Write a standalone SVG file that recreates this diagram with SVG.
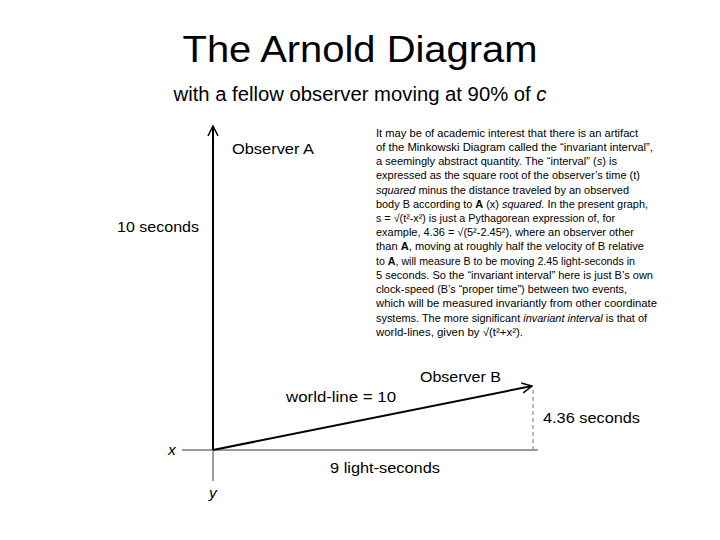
<svg xmlns="http://www.w3.org/2000/svg" width="720" height="540" viewBox="0 0 720 540">
<defs>
<style>
text{font-family:"Liberation Sans","DejaVu Sans",sans-serif;fill:#000}
.title{font-size:37px}
.sub{font-size:20px}
.lbl{font-size:15.5px}
.para{font-size:11px}
.it{font-style:italic}
.b{font-weight:bold}
.axis{stroke:#9a9a9a;stroke-width:2;fill:none}
.blk{stroke:#000;stroke-width:2;fill:none}
.dash{stroke:#777;stroke-width:1;stroke-dasharray:4 3;fill:none}
</style>
<marker id="open" viewBox="0 0 12 12" refX="11" refY="6" markerWidth="12" markerHeight="12" markerUnits="userSpaceOnUse" orient="auto">
<path d="M1,1 L11,6 L1,11" fill="none" stroke="#000" stroke-width="1.5"/>
</marker>
</defs>
<rect width="720" height="540" fill="#fff"/>
<g id="title">
<text class="title" x="360" y="62" text-anchor="middle" textLength="355" lengthAdjust="spacingAndGlyphs">The Arnold Diagram</text>
<text class="sub" x="360" y="101" text-anchor="middle" textLength="373" lengthAdjust="spacingAndGlyphs">with a fellow observer moving at 90% of <tspan class="it">c</tspan></text>
</g>
<g id="connectors">
<line class="axis" x1="182" y1="450" x2="538" y2="450"/>
<line class="axis" x1="213" y1="450" x2="213" y2="481" stroke-width="1.5"/>
<line class="blk" x1="213" y1="450" x2="213" y2="126" marker-end="url(#open)"/>
<line class="blk" x1="213" y1="450" x2="532" y2="386" marker-end="url(#open)"/>
<line class="dash" x1="533" y1="390" x2="533" y2="449"/>
</g>
<g id="observer-a">
<text class="lbl" x="232" y="154" textLength="82" lengthAdjust="spacingAndGlyphs">Observer A</text>
</g>
<g id="ten-seconds">
<text class="lbl" x="117" y="232" textLength="82" lengthAdjust="spacingAndGlyphs">10 seconds</text>
</g>
<g id="observer-b">
<text class="lbl" x="420" y="382" textLength="81" lengthAdjust="spacingAndGlyphs">Observer B</text>
</g>
<g id="world-line">
<text class="lbl" x="286" y="402" textLength="110" lengthAdjust="spacingAndGlyphs">world-line = 10</text>
</g>
<g id="seconds-436">
<text class="lbl" x="543" y="423" textLength="97" lengthAdjust="spacingAndGlyphs">4.36 seconds</text>
</g>
<g id="light-seconds">
<text class="lbl" x="330" y="473" textLength="110" lengthAdjust="spacingAndGlyphs">9 light-seconds</text>
</g>
<g id="axis-labels">
<text class="lbl it" x="168" y="455">x</text>
<text class="lbl it" x="209" y="498">y</text>
</g>
<g id="paragraph">
<text class="para" x="376" y="137" textLength="262" lengthAdjust="spacingAndGlyphs">It may be of academic interest that there is an artifact</text>
<text class="para" x="376" y="151" textLength="277" lengthAdjust="spacingAndGlyphs">of the Minkowski Diagram called the “invariant interval”,</text>
<text class="para" x="376" y="165" textLength="241" lengthAdjust="spacingAndGlyphs">a seemingly abstract quantity. The “interval” (<tspan class="it">s</tspan>) is</text>
<text class="para" x="376" y="179" textLength="264" lengthAdjust="spacingAndGlyphs">expressed as the square root of the observer’s time (t)</text>
<text class="para" x="376" y="194" textLength="253" lengthAdjust="spacingAndGlyphs"><tspan class="it">squared</tspan> minus the distance traveled by an observed</text>
<text class="para" x="376" y="208" textLength="272" lengthAdjust="spacingAndGlyphs">body B according to <tspan class="b">A</tspan> (x) <tspan class="it">squared.</tspan> In the present graph,</text>
<text class="para" x="376" y="222" textLength="239" lengthAdjust="spacingAndGlyphs">s = √(t²-x²)  is just a Pythagorean expression of, for</text>
<text class="para" x="376" y="236" textLength="258" lengthAdjust="spacingAndGlyphs">example, 4.36 = √(5²-2.45²), where an observer other</text>
<text class="para" x="376" y="250" textLength="268" lengthAdjust="spacingAndGlyphs">than <tspan class="b">A</tspan>, moving at roughly half the velocity of B relative</text>
<text class="para" x="376" y="265" textLength="259" lengthAdjust="spacingAndGlyphs">to <tspan class="b">A</tspan>, will measure B to be moving 2.45 light-seconds in</text>
<text class="para" x="376" y="279" textLength="277" lengthAdjust="spacingAndGlyphs">5 seconds. So the “invariant interval” here is just B’s own</text>
<text class="para" x="376" y="293" textLength="251" lengthAdjust="spacingAndGlyphs">clock-speed (B’s “proper time”) between two events,</text>
<text class="para" x="376" y="307" textLength="281" lengthAdjust="spacingAndGlyphs">which will be measured invariantly from other coordinate</text>
<text class="para" x="376" y="322" textLength="271" lengthAdjust="spacingAndGlyphs">systems. The more significant <tspan class="it">invariant interval</tspan> is that of</text>
<text class="para" x="376" y="336" textLength="147" lengthAdjust="spacingAndGlyphs">world-lines, given by √(t²+x²).</text>
</g>
</svg>
